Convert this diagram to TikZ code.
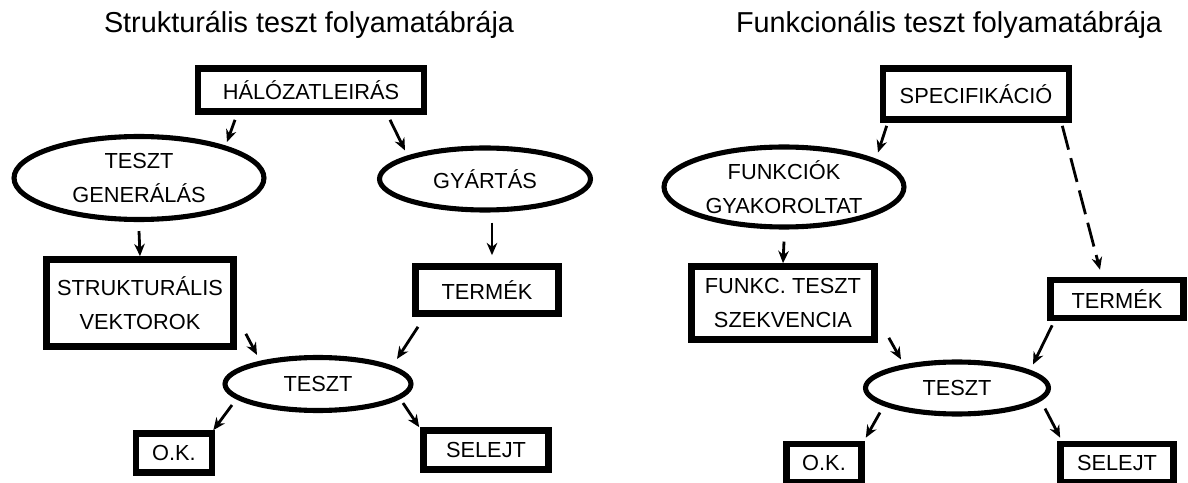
\documentclass[tikz,border=0pt]{standalone}
\usepackage{fontspec}
\setmainfont{Liberation Sans}
\usetikzlibrary{shapes.geometric,arrows.meta,calc}
\tikzset{
  box/.style={draw, rectangle, line width=3.8pt, align=center, inner sep=0pt,
    font=\fontsize{12.4}{19.3}\selectfont},
  oval/.style={draw, ellipse, line width=2.9pt, align=center, inner sep=0pt,
    font=\fontsize{12.4}{19.3}\selectfont},
  arr/.style={->, line width=1.6pt},
  dasharr/.style={->, line width=1.6pt, dash pattern=on 14pt off 5pt},
  heading/.style={anchor=base, font=\fontsize{16.4}{20}\selectfont},
}

\begin{document}
\begin{tikzpicture}[x=0.02cm, y=-0.02cm, >={Stealth[length=7pt,width=6pt]}]
\useasboundingbox (0,0) rectangle (1188,483);
% titles
\node (tleft) at (309,33) [heading] {Strukturális teszt folyamatábrája};
\node (tright) at (949,33) [heading] {Funkcionális teszt folyamatábrája};
% structural test
\node (hal) at (311,90) [box, minimum width=4.52cm, minimum height=0.86cm] {HÁLÓZATLEIRÁS};
\node (tgen) at (139,178) [oval, minimum width=5.0cm, minimum height=1.66cm] {TESZT\\GENERÁLÁS};
\node (gyart) at (485,179) [oval, minimum width=4.22cm, minimum height=1.24cm] {GYÁRTÁS};
\node (strukt) at (140,303) [box, minimum width=3.74cm, minimum height=1.74cm] {STRUKTURÁLIS\\VEKTOROK};
\node (termek) at (487,290) [box, minimum width=2.86cm, minimum height=0.94cm] {TERMÉK};
\node (teszt) at (318,384) [oval, minimum width=3.72cm, minimum height=1.06cm] {TESZT};
\node (ok) at (174,453) [box, minimum width=1.52cm, minimum height=0.78cm] {O.K.};
\node (selejt) at (486,450) [box, minimum width=2.5cm, minimum height=0.78cm] {SELEJT};
\draw[arr] ($(hal.south)+(-76,5)$) -- ($(tgen.north)+(88,8)$);
\draw[arr] ($(hal.south)+(79,5)$) -- ($(gyart.north)+(-80,5)$);
\draw[arr] ($(tgen.south)+(0,9)$) -- (strukt.north);
\draw[arr] ($(gyart.south)+(7,10)$) -- ($(termek.north)+(5,-8)$);
\draw[arr] ($(strukt.south east)+(9,-16)$) -- ($(teszt.north)+(-61,0)$);
\draw[arr] ($(termek.south)+(-69,10)$) -- ($(teszt.north)+(79,4)$);
\draw[arr] ($(teszt.south)+(-86,-8)$) -- ($(ok.north east)+(-2,0)$);
\draw[arr] ($(teszt.south)+(85,-10)$) -- ($(selejt.north west)+(-1,0)$);
% functional test
\node (spec) at (976,94) [box, minimum width=3.72cm, minimum height=1.02cm] {SPECIFIKÁCIÓ};
\node (funk) at (784,187) [oval, minimum width=4.8cm, minimum height=1.6cm] {FUNKCIÓK\\GYAKOROLTAT};
\node (fseq) at (783,303) [box, minimum width=3.66cm, minimum height=1.46cm] {FUNKC. TESZT\\SZEKVENCIA};
\node (termek2) at (1117,299) [box, minimum width=2.66cm, minimum height=0.76cm] {TERMÉK};
\node (teszt2) at (957,388) [oval, minimum width=3.66cm, minimum height=1.04cm] {TESZT};
\node (ok2) at (824,463) [box, minimum width=1.5cm, minimum height=0.76cm] {O.K.};
\node (selejt2) at (1117,463) [box, minimum width=2.26cm, minimum height=0.76cm] {SELEJT};
\draw[arr] ($(spec.south west)+(7,3)$) -- ($(funk.north)+(94,8)$);
\draw[dasharr] ($(spec.south east)+(-10,3)$) -- ($(termek2.north)+(-17,-7)$);
\draw[arr] ($(funk.south)+(0,12)$) -- (fseq.north);
\draw[arr] ($(fseq.south east)+(11,-5)$) -- ($(teszt2.north)+(-56,0)$);
\draw[arr] ($(termek2.south west)+(5,4)$) -- ($(teszt2.north)+(76,5)$);
\draw[arr] ($(teszt2.south)+(-77,-4)$) -- ($(ok2.north east)+(1,-3)$);
\draw[arr] ($(teszt2.south)+(88,-8)$) -- ($(selejt2.north west)+(3,-3)$);
\end{tikzpicture}
\end{document}
